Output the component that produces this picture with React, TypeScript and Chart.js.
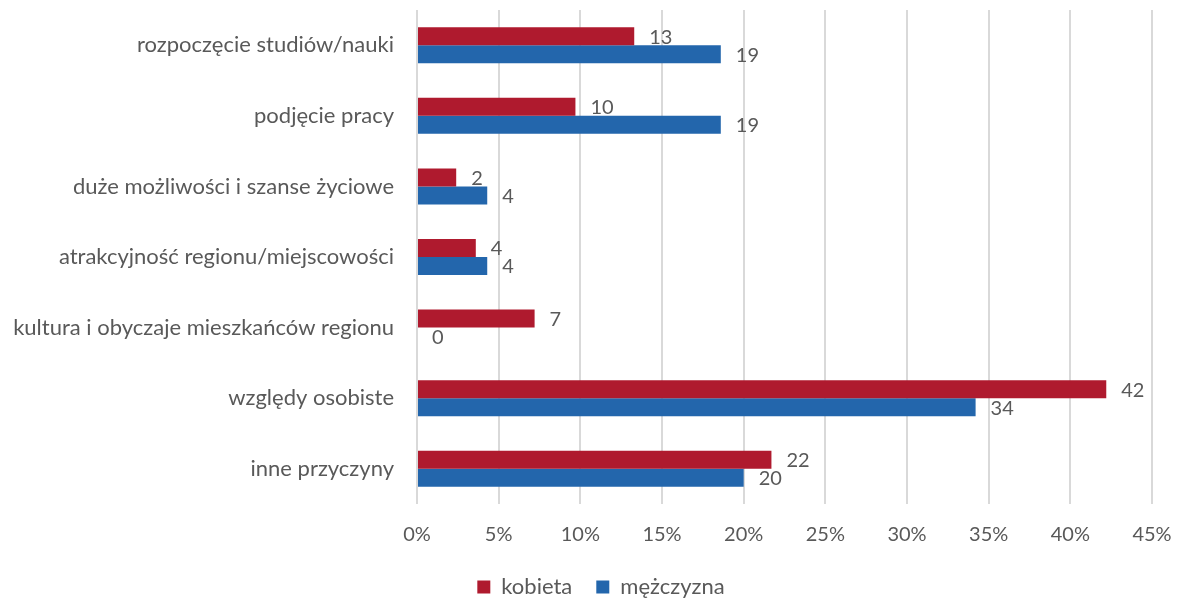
import React, { useEffect, useRef } from "react";
import { Chart, registerables } from "chart.js";

Chart.register(...registerables);

const categories = [
  "rozpoczęcie studiów/nauki",
  "podjęcie pracy",
  "duże możliwości i szanse życiowe",
  "atrakcyjność regionu/miejscowości",
  "kultura i obyczaje mieszkańców regionu",
  "względy osobiste",
  "inne przyczyny",
];
const kobieta = [13.3, 9.7, 2.4, 3.6, 7.2, 42.2, 21.7];
const mezczyzna = [18.6, 18.6, 4.3, 4.3, 0, 34.2, 20.0];
const seriesNames = ["kobieta", "mężczyzna"];
const xTicks = [0, 5, 10, 15, 20, 25, 30, 35, 40, 45];

const FONT = "Lato, 'Noto Sans', sans-serif";
const TEXT = "#595959";

const valueLabels = {
  id: "valueLabels",
  afterDatasetsDraw(chart: any) {
    const ctx = chart.ctx;
    ctx.save();
    ctx.font = `20px ${FONT}`;
    ctx.fillStyle = TEXT;
    ctx.textAlign = "left";
    ctx.textBaseline = "middle";
    chart.data.datasets.forEach((ds: any, i: number) => {
      const meta = chart.getDatasetMeta(i);
      meta.data.forEach((el: any, j: number) => {
        const v = ds.data[j];
        ctx.fillText(String(Math.round(v)), el.x + 15, el.y + 1);
      });
    });
    ctx.restore();
  },
};

const shiftLegend = {
  id: "shiftLegend",
  afterLayout(chart: any) {
    if (chart.legend) {
      chart.legend.left = 50;
    }
  },
};

export default function App() {
  const ref = useRef<HTMLCanvasElement>(null);
  useEffect(() => {
    if (!ref.current) return;
    const chart = new Chart(ref.current, {
      type: "bar",
      data: {
        labels: categories,
        datasets: [
          {
            label: seriesNames[0],
            data: kobieta,
            backgroundColor: "#AF1A2E",
            categoryPercentage: 0.51,
            barPercentage: 1.0,
          },
          {
            label: seriesNames[1],
            data: mezczyzna,
            backgroundColor: "#2366AC",
            categoryPercentage: 0.51,
            barPercentage: 1.0,
          },
        ],
      },
      options: {
        indexAxis: "y",
        animation: false,
        responsive: true,
        maintainAspectRatio: false,
        layout: { padding: { top: 10, right: 29, left: 0, bottom: -7 } },
        plugins: {
          tooltip: { enabled: false },
          legend: {
            position: "bottom",
            labels: {
              font: { family: FONT, size: 22 },
              color: TEXT,
              boxWidth: 13,
              boxHeight: 13,
              padding: 24,
            },
          },
        },
        scales: {
          x: {
            min: 0,
            max: 45,
            afterBuildTicks: (scale: any) => {
              scale.ticks = xTicks.map((v) => ({ value: v }));
            },
            afterFit: (scale: any) => {
              scale.height = 48;
              scale.paddingLeft = 0;
              scale.paddingRight = 0;
            },
            ticks: {
              callback: (v: any) => v + "%",
              font: { family: FONT, size: 20 },
              color: TEXT,
              padding: 19,
            },
            grid: { color: "#D9D9D9", lineWidth: 2, drawTicks: false },
            border: { display: false },
          },
          y: {
            afterFit: (scale: any) => {
              scale.width = 417;
              scale.paddingTop = 0;
              scale.paddingBottom = 0;
            },
            ticks: {
              font: { family: FONT, size: 22 },
              color: TEXT,
              padding: 23,
            },
            grid: { display: false, drawTicks: false },
            border: { display: false },
          },
        },
      },
      plugins: [valueLabels, shiftLegend],
    });
    return () => chart.destroy();
  }, []);
  return (
    <div style={{ position: "absolute", left: 0, top: 0, width: 1181, height: 601, background: "#fff" }}>
      <canvas ref={ref} />
    </div>
  );
}
